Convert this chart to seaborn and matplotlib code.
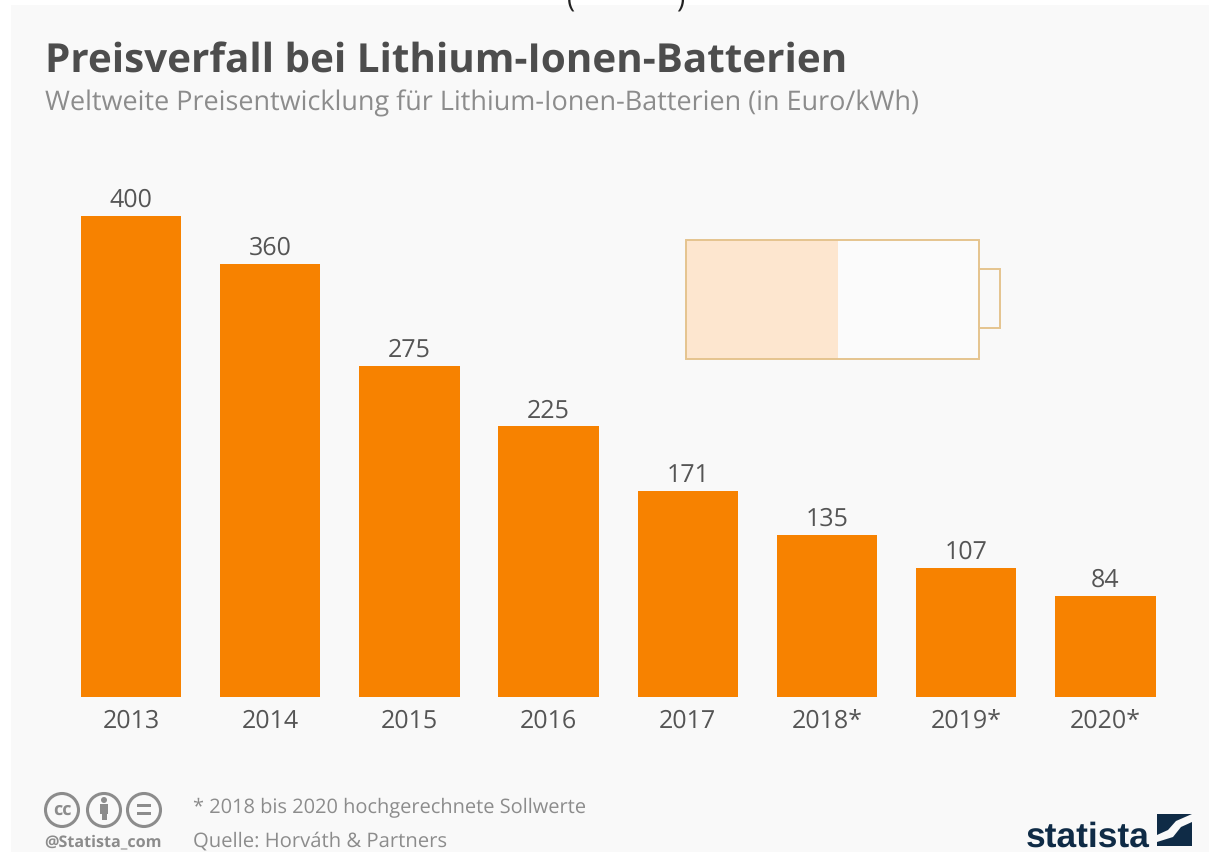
import matplotlib
matplotlib.use("Agg")
import matplotlib.pyplot as plt
from matplotlib.patches import Rectangle, Circle, Polygon
import pandas as pd
import seaborn as sns

years = ["2013", "2014", "2015", "2016", "2017", "2018*", "2019*", "2020*"]
prices = [400, 360, 275, 225, 171, 135, 107, 84]

title = "Preisverfall bei Lithium-Ionen-Batterien"
subtitle = "Weltweite Preisentwicklung für Lithium-Ionen-Batterien (in Euro/kWh)"
note = "* 2018 bis 2020 hochgerechnete Sollwerte"
source = "Quelle: Horváth & Partners"

orange = "#f78200"
dark = "#4d4d4d"
grey = "#8c8c8c"
navy = "#0f2b46"
panel = "#f9f9f9"

sns.set_theme(style="white")
plt.rcParams["font.family"] = ["Open Sans", "DejaVu Sans"]
plt.rcParams["text.hinting"] = "no_hinting"

W, H = 1209, 853
fig = plt.figure(figsize=(W / 100, H / 100), dpi=100, facecolor="white")

# overlay in pixel coords for the frame, header, battery and footer
bg = fig.add_axes([0, 0, 1, 1], zorder=0)
bg.set_xlim(0, W)
bg.set_ylim(H, 0)
bg.axis("off")
bg.add_patch(Rectangle((11, 6), W - 11, H - 6, fc=panel, ec="none"))

bg.text(45, 73, title, fontsize=29.1, fontweight="bold", color=dark, va="baseline")
bg.text(45, 111, subtitle, fontsize=19.45, color=grey, va="baseline")

# cut off text above the panel
bg.text(571, 0, "(", fontsize=20, color="#222222", va="center", ha="center")
bg.text(680, 0, ")", fontsize=20, color="#222222", va="center", ha="center")

# battery
bg.add_patch(Rectangle((686, 241), 152, 118.5, fc="#fde6cf", ec="none"))
bg.add_patch(Rectangle((838, 241), 141, 118.5, fc="#fbfbfb", ec="none"))
bg.add_patch(Rectangle((686, 241), 293, 118.5, fc="none", ec="#e5c48f", lw=1.4))
bg.add_patch(Rectangle((979, 270), 21, 59, fc="none", ec="#e5c48f", lw=1.4))

# footer
for cx in [62, 104, 144]:
    bg.add_patch(Circle((cx, 811), 16.5, fc="none", ec=grey, lw=2.2))
bg.text(62, 810, "cc", fontsize=13, fontweight="bold", color=grey, ha="center", va="center")
bg.add_patch(Circle((104, 801), 3, fc=grey, ec="none"))
bg.add_patch(Rectangle((100, 805), 8, 10, fc=grey, ec="none"))
bg.add_patch(Rectangle((101.5, 815), 5, 6, fc=grey, ec="none"))
bg.add_patch(Rectangle((137, 805), 14, 2.8, fc=grey, ec="none"))
bg.add_patch(Rectangle((137, 813), 14, 2.8, fc=grey, ec="none"))
bg.text(44, 846, "@Statista_com", fontsize=11.6, fontweight="bold", color=grey, va="baseline")
bg.text(193, 813, note, fontsize=14.4, color=grey, va="baseline")
bg.text(193, 847, source, fontsize=14.6, color=grey, va="baseline")

bg.text(1026, 847, "statista", fontsize=25.5, fontweight="bold", color=navy, va="baseline",
        family=["Liberation Sans", "DejaVu Sans"])
bg.add_patch(Rectangle((1157, 815), 35, 32, fc=navy, ec="none"))
bg.add_patch(Polygon([(1157, 836), (1168, 831), (1176, 822), (1192, 815), (1192, 823),
                      (1181, 828), (1173, 838), (1157, 843)], fc=panel, ec="none"))

# bars
left, right = 61.4, 1175.0
base, top = 698.0, 190.0
ax = fig.add_axes([left / W, 1 - base / H, (right - left) / W, (base - top) / H], zorder=1)
ax.patch.set_alpha(0)

df = pd.DataFrame({"year": years, "price": prices})
sns.barplot(data=df, x="year", y="price", color=orange, saturation=1, width=0.722,
            linewidth=0, ax=ax)
ax.set_xlim(-0.5, 7.5)
ax.set_ylim(0, (base - top) / 1.2025)
ax.set_xlabel("")
ax.set_ylabel("")
ax.set_yticks([])
ax.tick_params(axis="x", length=0, pad=8, labelsize=18, labelcolor="#555555")
sns.despine(ax=ax, left=True, bottom=True)
ax.bar_label(ax.containers[0], padding=3, fontsize=18, color="#555555")

fig.savefig("out.png", dpi=100)
